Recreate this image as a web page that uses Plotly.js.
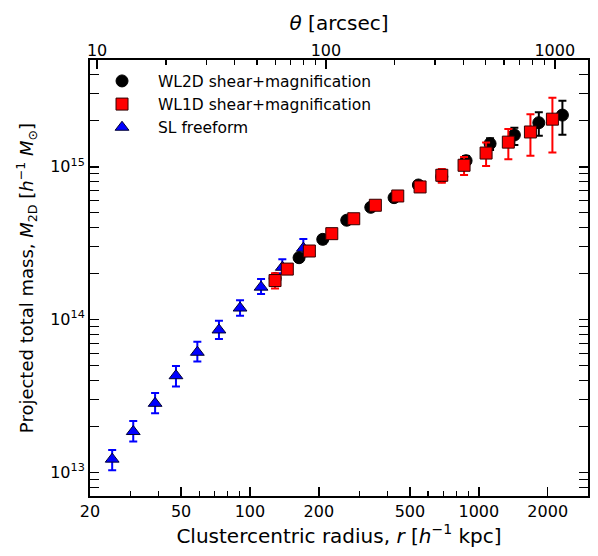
<!DOCTYPE html>
<html>
<head>
<meta charset="utf-8">
<script src="https://cdn.plot.ly/plotly-3.0.1.min.js"></script>
<style>html,body{margin:0;padding:0;background:#fff}#chart{width:598px;height:556px}</style>
</head>
<body>
<div id="chart"></div>
<script>
// ---- data ----
// WL2D shear+magnification (black circles)
const wl2d_r    = [128.9, 163.9, 208.0, 264.8, 337.2, 426.3, 544.4, 689.0, 879.8, 1120, 1430, 1829, 2319];
const wl2d_m    = [1.86e14, 2.54e14, 3.35e14, 4.47e14, 5.43e14, 6.28e14, 7.60e14, 8.61e14, 1.096e15, 1.417e15, 1.615e15, 1.944e15, 2.18e15];
const wl2d_up   = [0.12e14, 0.16e14, 0.20e14, 0.25e14, 0.30e14, 0.35e14, 0.45e14, 0.6e14, 0.8e14, 0.12e15, 0.185e15, 0.33e15, 0.53e15];
const wl2d_lo   = [0.12e14, 0.16e14, 0.20e14, 0.25e14, 0.30e14, 0.35e14, 0.45e14, 0.6e14, 0.8e14, 0.13e15, 0.225e15, 0.35e15, 0.56e15];

// WL1D shear+magnification (red squares)
const wl1d_r    = [128.7, 145.6, 181.8, 227.8, 284.1, 353.1, 442.4, 553.8, 689.0, 862.1, 1076, 1346, 1681, 2097];
const wl1d_m    = [1.80e14, 2.14e14, 2.81e14, 3.65e14, 4.57e14, 5.60e14, 6.44e14, 7.38e14, 8.80e14, 1.023e15, 1.23e15, 1.45e15, 1.69e15, 2.05e15];
const wl1d_up   = [0.21e14, 0.15e14, 0.15e14, 0.18e14, 0.22e14, 0.30e14, 0.40e14, 0.55e14, 0.88e14, 0.137e15, 0.21e15, 0.32e15, 0.52e15, 0.78e15];
const wl1d_lo   = [0.20e14, 0.15e14, 0.15e14, 0.18e14, 0.22e14, 0.30e14, 0.40e14, 0.55e14, 0.93e14, 0.139e15, 0.22e15, 0.33e15, 0.51e15, 0.81e15];

// SL freeform (blue triangles)
const sl_r      = [25.0, 30.9, 38.5, 47.5, 58.9, 73.2, 90.5, 111.8, 138.5, 171.1];
const sl_m      = [1.22e13, 1.85e13, 2.83e13, 4.29e13, 6.11e13, 8.55e13, 1.19e14, 1.63e14, 2.20e14, 2.93e14];
const sl_up     = [0.18e13, 0.32e13, 0.47e13, 0.68e13, 1.06e13, 1.29e13, 0.15e14, 0.21e14, 0.28e14, 0.44e14];
const sl_lo     = [0.19e13, 0.26e13, 0.39e13, 0.65e13, 0.80e13, 1.08e13, 0.13e14, 0.16e14, 0.19e14, 0.33e14];

// axis ticks
const xTicks      = [20, 50, 100, 200, 500, 1000, 2000];
const xMinorTicks = [30, 40, 60, 70, 80, 90, 300, 400, 600, 700, 800, 900, 3000];
const thetaTicks      = [10, 100, 1000];
const thetaMinorTicks = [20, 30, 40, 50, 60, 70, 80, 90, 200, 300, 400, 500, 600, 700, 800, 900];
const yTicks      = [1e13, 1e14, 1e15];
const yMinorTicks = [8e12, 9e12, 2e13, 3e13, 4e13, 5e13, 6e13, 7e13, 8e13, 9e13,
                     2e14, 3e14, 4e14, 5e14, 6e14, 7e14, 8e14, 9e14, 2e15, 3e15, 4e15];
const xRange = [20, 3000];
const yRange = [7e12, 5e15];
const KPC_PER_ARCSEC = 2.147;

// ---- chart ----
const FONT = 'DejaVu Sans, sans-serif';
function errTrace(name, x, y, up, lo, color, symbol, edge, rank) {
  return {
    type: 'scatter', mode: 'markers', name: name, x: x, y: y,
    legendrank: rank,
    marker: {symbol: symbol, size: 12, color: color, line: {color: edge, width: 1}},
    error_y: {type: 'data', symmetric: false, array: up, arrayminus: lo,
              color: color, thickness: 2, width: 4}
  };
}
const traces = [
  errTrace('SL freeform', sl_r, sl_m, sl_up, sl_lo, '#0000ff', 'triangle-up', '#000033', 3),
  errTrace('WL2D shear+magnification', wl2d_r, wl2d_m, wl2d_up, wl2d_lo, '#000000', 'circle', '#000000', 1),
  errTrace('WL1D shear+magnification', wl1d_r, wl1d_m, wl1d_up, wl1d_lo, '#ff0000', 'square', '#330000', 2),
  {type: 'scatter', mode: 'markers', x: [], y: [], xaxis: 'x2', showlegend: false, hoverinfo: 'skip'}
];
const tickFmt = {family: FONT, size: 16, color: '#000'};
const layout = {
  width: 598, height: 556,
  margin: {l: 90, r: 10, t: 60, b: 60},
  paper_bgcolor: '#fff', plot_bgcolor: '#fff',
  font: {family: FONT, color: '#000'},
  showlegend: true,
  legend: {x: -0.008, y: 0.99, xanchor: 'left', yanchor: 'top', bgcolor: 'rgba(0,0,0,0)',
           font: {family: FONT, size: 15.5, color: '#000'}, tracegroupgap: 0, itemwidth: 62},
  xaxis: {
    type: 'log', range: xRange.map(Math.log10),
    tickmode: 'array', tickvals: xTicks, ticktext: xTicks.map(String),
    ticks: 'inside', ticklen: 9, tickwidth: 1.5, tickcolor: '#000',
    showline: true, linecolor: '#000', linewidth: 2, mirror: true,
    showgrid: false, zeroline: false, tickfont: tickFmt,
    minor: {tickmode: 'array', tickvals: xMinorTicks, ticks: 'inside', ticklen: 5, tickwidth: 1.2, tickcolor: '#000', showgrid: false},
    title: {text: 'Clustercentric radius, <i>r</i> [<i>h</i><sup>−1</sup> kpc]', font: {family: FONT, size: 20, color: '#000'}, standoff: 8}
  },
  xaxis2: {
    type: 'log', overlaying: 'x', side: 'top', anchor: 'y',
    range: xRange.map(v => Math.log10(v / KPC_PER_ARCSEC)),
    tickmode: 'array', tickvals: thetaTicks, ticktext: thetaTicks.map(String),
    ticks: 'inside', ticklen: 9, tickwidth: 1.5, tickcolor: '#000',
    showline: false, showgrid: false, zeroline: false, tickfont: tickFmt,
    minor: {tickmode: 'array', tickvals: thetaMinorTicks, ticks: 'inside', ticklen: 5, tickwidth: 1.2, tickcolor: '#000', showgrid: false},
    title: {text: '<i>θ</i> [arcsec]', font: {family: FONT, size: 20, color: '#000'}, standoff: 4}
  },
  yaxis: {
    type: 'log', range: yRange.map(Math.log10),
    tickmode: 'array', tickvals: yTicks,
    ticktext: yTicks.map(v => '10<sup>' + Math.round(Math.log10(v)) + '</sup>'),
    ticks: 'inside', ticklen: 9, tickwidth: 1.5, tickcolor: '#000',
    showline: true, linecolor: '#000', linewidth: 2, mirror: 'allticks',
    showgrid: false, zeroline: false, tickfont: tickFmt,
    minor: {tickmode: 'array', tickvals: yMinorTicks, ticks: 'inside', ticklen: 5, tickwidth: 1.2, tickcolor: '#000', showgrid: false},
    title: {text: 'Projected total mass, <i>M</i><sub>2D</sub> [<i>h</i><sup>−1</sup> <i>M</i><sub>⊙</sub>]', font: {family: FONT, size: 18, color: '#000'}, standoff: 12}
  }
};
Plotly.newPlot('chart', traces, layout, {displayModeBar: false, staticPlot: true});
</script>
</body>
</html>
